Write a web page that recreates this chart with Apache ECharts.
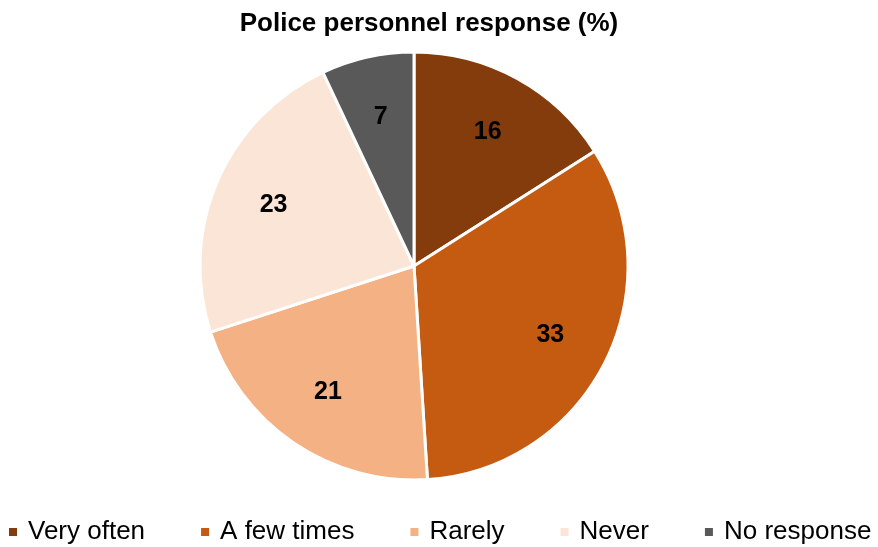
<!DOCTYPE html>
<html>
<head>
<meta charset="utf-8">
<script src="https://cdn.jsdelivr.net/npm/echarts@6/dist/echarts.min.js"></script>
<style>
  html, body { margin: 0; padding: 0; background: #fff; }
  #chart { width: 878px; height: 547px; }
</style>
</head>
<body>
<div id="chart"></div>
<script>
// Survey answers and their shares (%)
const categories = ['Very often', 'A few times', 'Rarely', 'Never', 'No response'];
const values = [16, 33, 21, 23, 7];
const colors = ['#843C0C', '#C55A11', '#F4B183', '#FBE5D6', '#595959'];

const FONT = '"Liberation Sans", Arial, sans-serif';
const center = [414, 266];
const radius = 214;

const sliceData = categories.map((name, i) => ({
  name,
  value: values[i],
  itemStyle: { color: colors[i] }
}));

const chart = echarts.init(document.getElementById('chart'));
chart.setOption({
  animation: false,
  title: {
    text: 'Police personnel response (%)',
    left: 424,
    textAlign: 'center',
    top: 6,
    textStyle: { fontFamily: FONT, fontSize: 26, fontWeight: 'bold', color: '#000' }
  },
  legend: {
    top: 514,
    left: 2,
    icon: 'rect',
    itemWidth: 10,
    itemHeight: 10,
    itemGap: 54,
    selectedMode: false,
    textStyle: { fontFamily: FONT, fontSize: 26, color: '#000', padding: [0, 0, 0, 5] },
    data: categories
  },
  series: [
    {
      type: 'pie',
      center,
      radius: [0, radius],
      startAngle: 90,
      clockwise: true,
      label: { show: false },
      labelLine: { show: false },
      itemStyle: { borderColor: '#fff', borderWidth: 3 },
      emphasis: { disabled: true },
      data: sliceData
    },
    {
      // transparent ring that only carries the value labels further out
      type: 'pie',
      center,
      radius: [100, 200],
      startAngle: 90,
      clockwise: true,
      silent: true,
      legendHoverLink: false,
      itemStyle: { color: 'transparent' },
      label: {
        show: true,
        position: 'inside',
        formatter: '{c}',
        fontFamily: FONT,
        fontSize: 25,
        fontWeight: 'bold',
        color: '#000'
      },
      labelLine: { show: false },
      emphasis: { disabled: true },
      data: categories.map((name, i) => ({ name: name + ' ', value: values[i] }))
    }
  ]
});
</script>
</body>
</html>
